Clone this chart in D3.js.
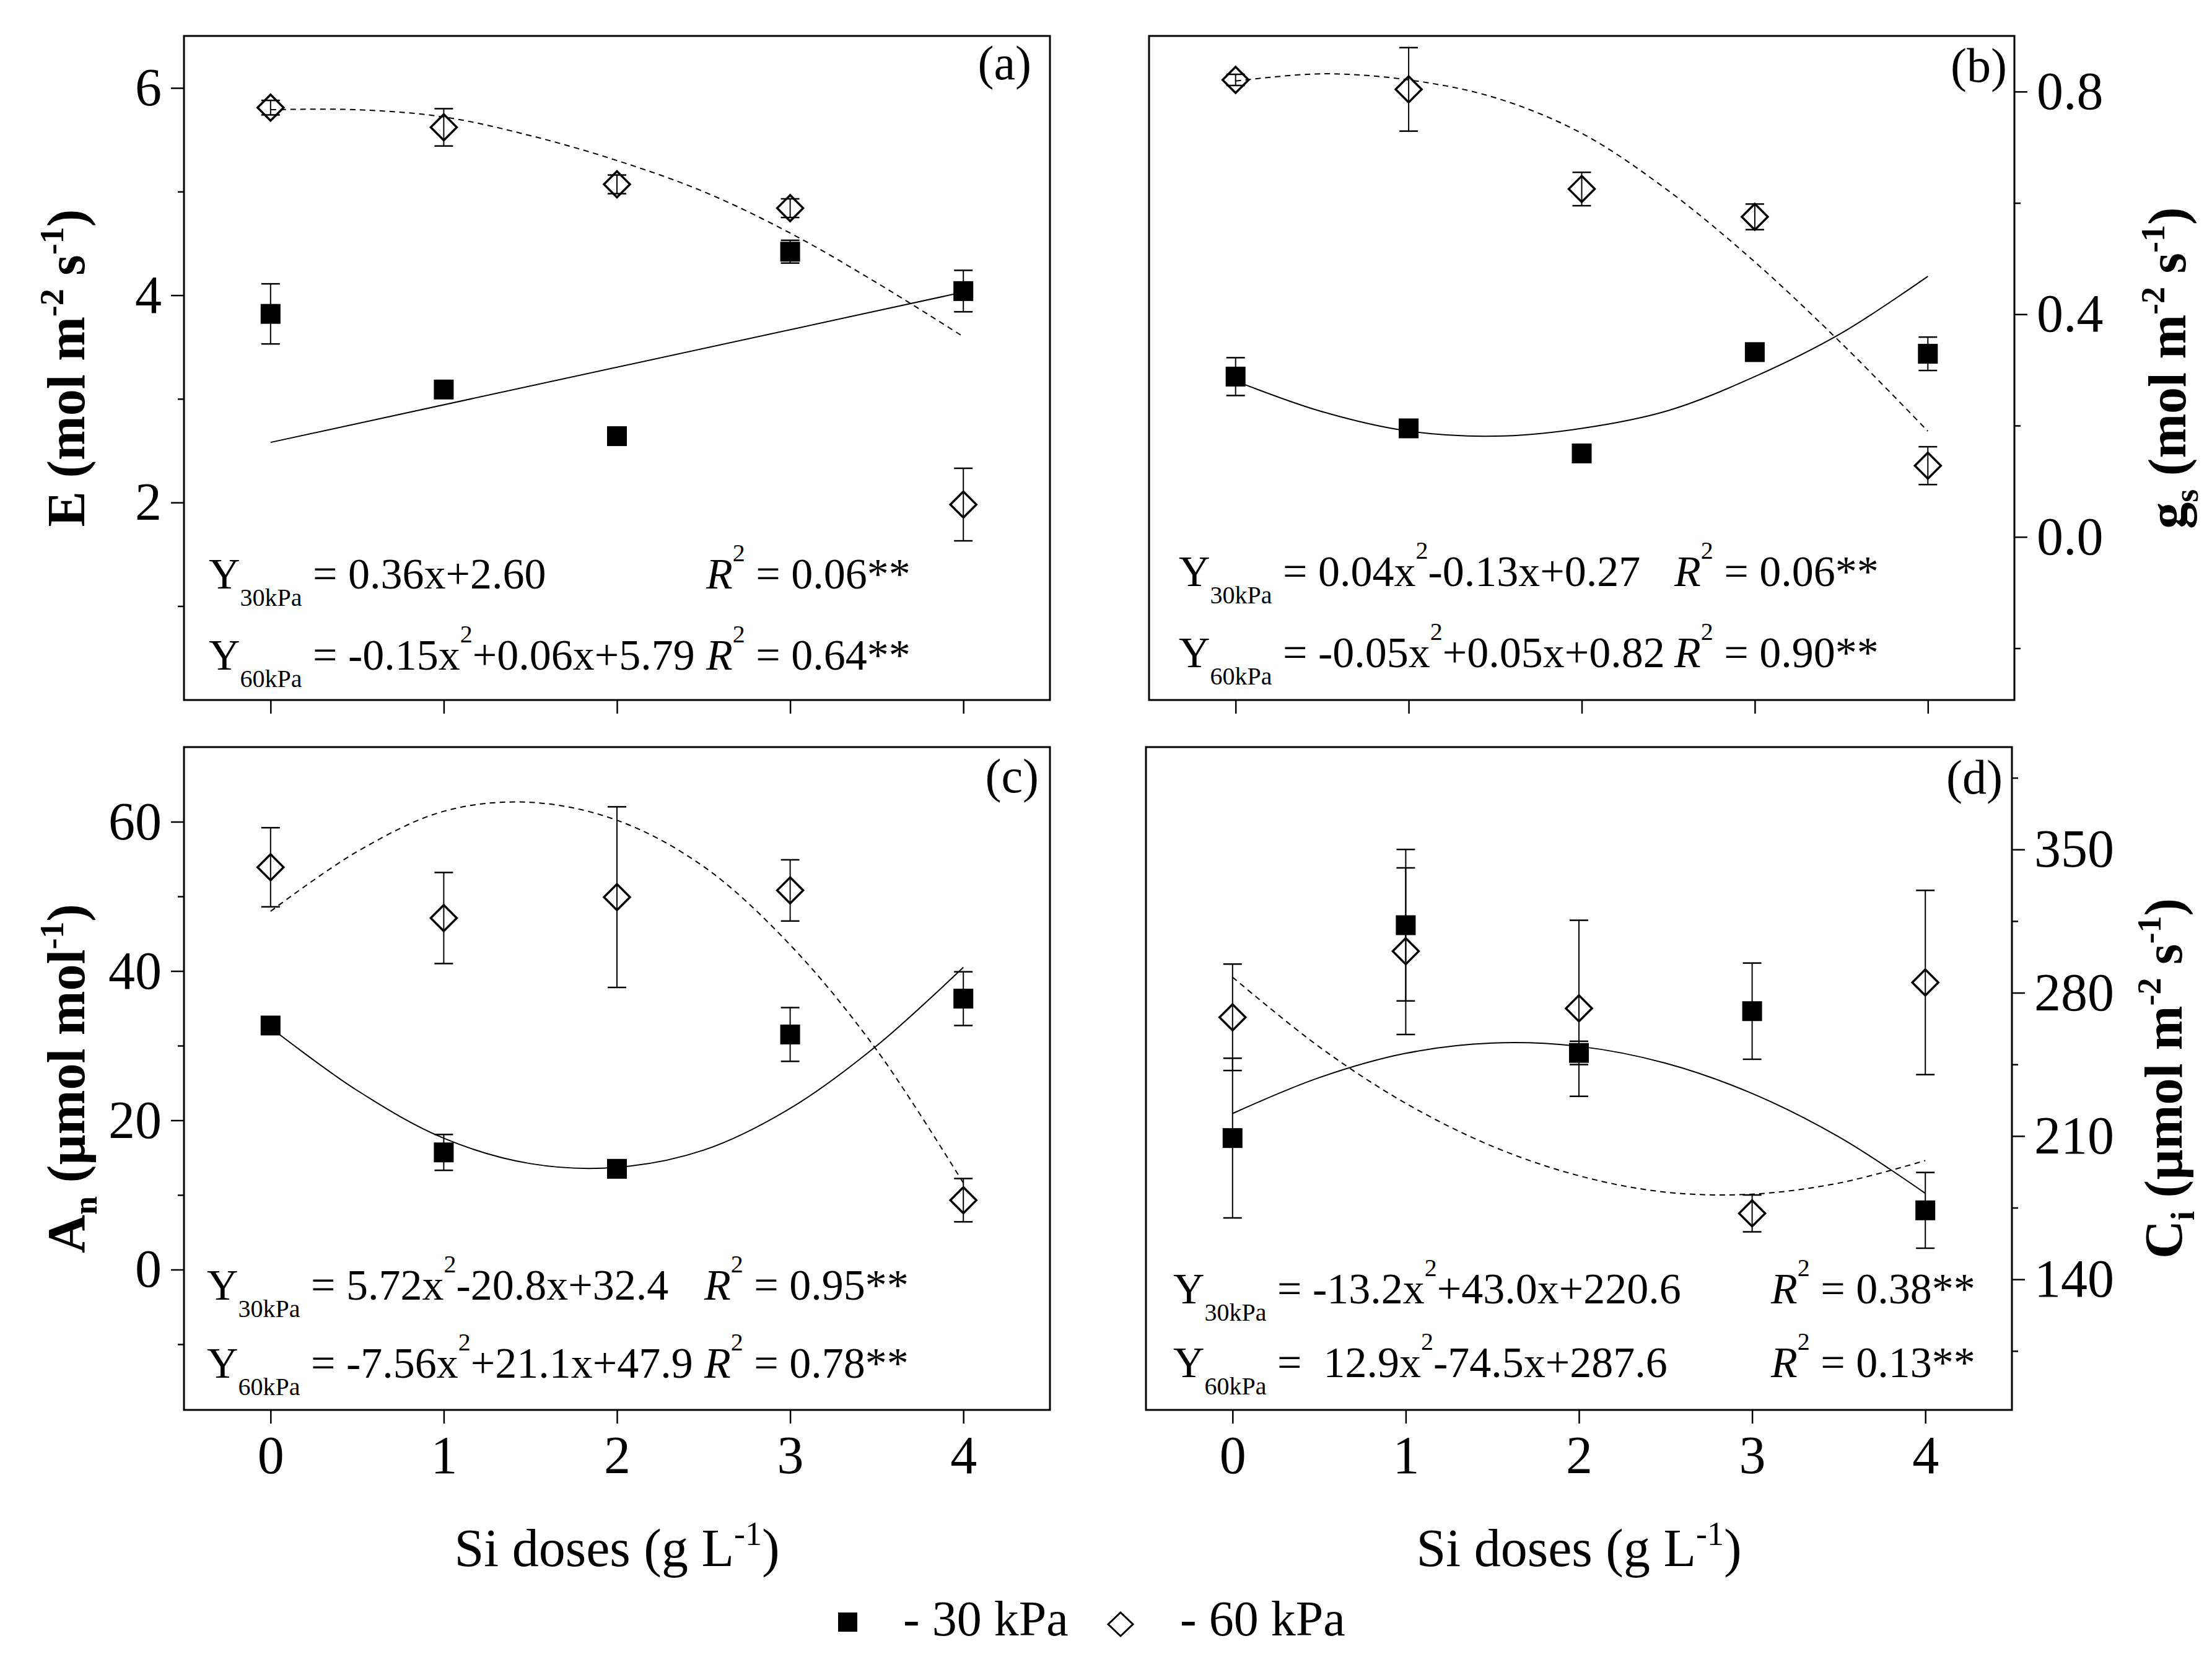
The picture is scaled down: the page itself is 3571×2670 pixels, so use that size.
<!DOCTYPE html>
<html>
<head>
<meta charset="utf-8">
<script src="https://cdn.jsdelivr.net/npm/d3@7"></script>
<style>
  body { margin: 0; background: #fff; }
  text { font-family: "Liberation Serif", "Times New Roman", serif; fill: #000; white-space: pre; }
</style>
</head>
<body>
<div id="chart"></div>
<script>
const width = 3571,
    height = 2670;

// Si doses (x) and x positions where the fitted curves were read
const doses = [0, 1, 2, 3, 4];
const fitX = [0, 0.5, 1, 1.5, 2, 2.5, 3, 3.5, 4];
const lineX = [0, 4];

// (a) E
const E30 = [3.82, 3.09, 2.64, 4.42, 4.04];
const E30err = [0.29, 0.05, 0.03, 0.11, 0.2];
const E60 = [5.81, 5.62, 5.07, 4.84, 1.98];
const E60err = [0.07, 0.18, 0.09, 0.09, 0.35];
const E30fit = [2.58, 4.03];
const E60fit = [5.79, 5.79, 5.72, 5.54, 5.3, 5.0, 4.6, 4.12, 3.6];
const Eticks = [2, 4, 6];
const Eminor = [1, 3, 5];

// (b) gs
const gs30 = [0.288, 0.195, 0.15, 0.332, 0.329];
const gs30err = [0.034, 0.01, 0.008, 0.012, 0.03];
const gs60 = [0.821, 0.804, 0.625, 0.575, 0.128];
const gs60err = [0.01, 0.075, 0.03, 0.023, 0.034];
const gs30fit = [0.28, 0.225, 0.19, 0.181, 0.195, 0.227, 0.288, 0.366, 0.468];
const gs60fit = [0.819, 0.832, 0.821, 0.789, 0.725, 0.622, 0.494, 0.348, 0.19];
const gsTicks = [0, 0.4, 0.8];
const gsMinor = [-0.2, 0.2, 0.6];

// (c) An
const An30 = [32.7, 15.7, 13.5, 31.5, 36.3];
const An30err = [0.8, 2.4, 0.6, 3.6, 3.6];
const An60 = [53.9, 47.1, 49.9, 50.8, 9.3];
const An60err = [5.3, 6.1, 12.1, 4.1, 2.9];
const An30fit = [32.4, 24.0, 17.6, 14.2, 13.7, 16.0, 21.6, 30.0, 40.5];
const An60fit = [48.0, 56.0, 61.4, 62.6, 60.2, 54.0, 43.5, 29.4, 11.6];
const AnTicks = [0, 20, 40, 60];
const AnMinor = [-10, 10, 30, 50];

// (d) Ci
const Ci30 = [209, 313, 250.6, 271, 173.7];
const Ci30err = [39, 37, 5.7, 23.5, 18.5];
const Ci60 = [268, 300.3, 272.4, 172.2, 285];
const Ci60err = [26, 40.7, 43, 9, 45];
const Ci30fit = [221, 238.5, 250.4, 255.4, 253.8, 245.6, 230.8, 209.6, 182];
const Ci60fit = [287.6, 253.6, 226, 205, 190.6, 182.6, 181.6, 187, 198];
const CiTicks = [140, 210, 280, 350];
const CiMinor = [105, 175, 245, 315, 385];

// equation texts: [Y subscript, right-hand side, R² value]
const eqA = [["30kPa", " = 0.36x+2.60", "0.06**"], ["60kPa", " = -0.15x²+0.06x+5.79", "0.64**"]];
const eqB = [["30kPa", " = 0.04x²-0.13x+0.27", "0.06**"], ["60kPa", " = -0.05x²+0.05x+0.82", "0.90**"]];
const eqC = [["30kPa", " = 5.72x²-20.8x+32.4", "0.95**"], ["60kPa", " = -7.56x²+21.1x+47.9", "0.78**"]];
const eqD = [["30kPa", " = -13.2x²+43.0x+220.6", "0.38**"], ["60kPa", " =  12.9x²-74.5x+287.6", "0.13**"]];

const svg = d3
    .select("#chart")
    .append("svg")
    .attr("width", width)
    .attr("height", height)
    .style("background", "#fff");

const panels = [
    {
        tag: "(a)", left: 297, right: 1695, top: 58, bottom: 1130, yDomain: [0.094, 6.502],
        major: Eticks, minor: Eminor, fmt: d3.format("d"), side: "left", xLabels: false,
        s30: E30, e30: E30err, s60: E60, e60: E60err, f30x: lineX, f30: E30fit, f60x: fitX, f60: E60fit,
        eq: eqA, eqX: 337, rX: 1140, eqY: [950, 1081], tagDx: 30, tagY: 128,
        title: [["E (mol m", ""], ["-2", "sup"], [" s", ""], ["-1", "sup"], [")", ""]], titleX: 136
    },
    {
        tag: "(b)", left: 1855, right: 3252, top: 58, bottom: 1130, yDomain: [-0.293, 0.9],
        major: gsTicks, minor: gsMinor, fmt: d3.format(".1f"), side: "right", xLabels: false,
        s30: gs30, e30: gs30err, s60: gs60, e60: gs60err, f30x: fitX, f30: gs30fit, f60x: fitX, f60: gs60fit,
        eq: eqB, eqX: 1903, rX: 2703, eqY: [946, 1077], tagDx: 12, tagY: 132,
        title: [["g", ""], ["s", "sub"], [" (mol m", ""], ["-2", "sup"], [" s", ""], ["-1", "sup"], [")", ""]], titleX: 3528
    },
    {
        tag: "(c)", left: 297, right: 1695, top: 1206, bottom: 2276, yDomain: [-18.8, 70],
        major: AnTicks, minor: AnMinor, fmt: d3.format("d"), side: "left", xLabels: true,
        s30: An30, e30: An30err, s60: An60, e60: An60err, f30x: fitX, f30: An30fit, f60x: fitX, f60: An60fit,
        eq: eqC, eqX: 334, rX: 1137, eqY: [2098, 2224], tagDx: 18, tagY: 1279,
        title: [["A", ""], ["n", "sub"], [" (µmol mol", ""], ["-1", "sup"], [")", ""]], titleX: 136
    },
    {
        tag: "(d)", left: 1850, right: 3248, top: 1206, bottom: 2276, yDomain: [76.2, 400],
        major: CiTicks, minor: CiMinor, fmt: d3.format("d"), side: "right", xLabels: true,
        s30: Ci30, e30: Ci30err, s60: Ci60, e60: Ci60err, f30x: fitX, f30: Ci30fit, f60x: fitX, f60: Ci60fit,
        eq: eqD, eqX: 1894, rX: 2859, eqY: [2104, 2223], tagDx: 15, tagY: 1281,
        title: [["C", ""], ["i", "sub"], [" (µmol m", ""], ["-2", "sup"], [" s", ""], ["-1", "sup"], [")", ""]], titleX: 3522
    }
];

// text with sub/superscripts built from [string, kind] pieces
function richText(sel, pieces, size, small, supUp, subDown) {
    let shift = 0;
    pieces.forEach(([t, kind]) => {
        const target = kind === "sup" ? -supUp : kind === "sub" ? subDown : 0;
        sel.append("tspan")
            .attr("dy", target - shift)
            .style("font-size", (kind ? small : size) + "px")
            .text(t);
        shift = target;
    });
}

panels.forEach((p) => {
    const x = d3.scaleLinear().domain([-0.5, 4.5]).range([p.left, p.right]);
    const y = d3.scaleLinear().domain(p.yDomain).range([p.bottom, p.top]);
    const g = svg.append("g");

    // x axis
    const xAxis = d3.axisBottom(x).tickValues(doses).tickSize(22).tickSizeOuter(0).tickPadding(19)
        .tickFormat(p.xLabels ? d3.format("d") : "");
    const gx = g.append("g").attr("transform", "translate(0," + p.bottom + ")").call(xAxis);

    // y axis, major and minor
    const axisFn = p.side === "left" ? d3.axisLeft : d3.axisRight;
    const yPos = p.side === "left" ? p.left : p.right;
    const gy = g.append("g").attr("transform", "translate(" + yPos + ",0)")
        .call(axisFn(y).tickValues(p.major).tickSize(21).tickSizeOuter(0).tickPadding(15).tickFormat(p.fmt));
    const gm = g.append("g").attr("transform", "translate(" + yPos + ",0)")
        .call(axisFn(y).tickValues(p.minor).tickSize(10).tickSizeOuter(0).tickFormat(""));

    [gx, gy, gm].forEach((a) => {
        a.select(".domain").remove();
        a.selectAll("line").attr("stroke", "#000").attr("stroke-width", 2.5);
        a.selectAll("text").style("font-size", "86px").attr("fill", "#000");
    });

    // frame
    g.append("rect")
        .attr("x", p.left).attr("y", p.top)
        .attr("width", p.right - p.left).attr("height", p.bottom - p.top)
        .attr("fill", "none").attr("stroke", "#000").attr("stroke-width", 3);

    // fitted curves
    const line = d3.line().x((d) => x(d[0])).y((d) => y(d[1])).curve(d3.curveCatmullRom);
    g.append("path")
        .attr("d", line(d3.zip(p.f30x, p.f30)))
        .attr("fill", "none").attr("stroke", "#000").attr("stroke-width", 2);
    g.append("path")
        .attr("d", line(d3.zip(p.f60x, p.f60)))
        .attr("fill", "none").attr("stroke", "#000").attr("stroke-width", 2)
        .attr("stroke-dasharray", "9,7");

    // error bars
    [[p.s30, p.e30], [p.s60, p.e60]].forEach(([vals, errs]) => {
        const eb = g.append("g").attr("stroke", "#000");
        eb.selectAll("line.v").data(doses).enter().append("line")
            .attr("x1", (d) => x(d)).attr("x2", (d) => x(d))
            .attr("y1", (d, i) => y(vals[i] - errs[i])).attr("y2", (d, i) => y(vals[i] + errs[i]))
            .attr("stroke-width", 2);
        [-1, 1].forEach((sgn) => {
            eb.selectAll("line.c" + sgn).data(doses).enter().append("line")
                .attr("x1", (d) => x(d) - 15).attr("x2", (d) => x(d) + 15)
                .attr("y1", (d, i) => y(vals[i] + sgn * errs[i])).attr("y2", (d, i) => y(vals[i] + sgn * errs[i]))
                .attr("stroke-width", 2.5);
        });
    });

    // markers
    g.selectAll("rect.sq").data(doses).enter().append("rect")
        .attr("x", (d) => x(d) - 16).attr("y", (d, i) => y(p.s30[i]) - 16)
        .attr("width", 32).attr("height", 32).attr("fill", "#000");
    g.selectAll("path.dm").data(doses).enter().append("path")
        .attr("d", (d, i) => {
            const cx = x(d), cy = y(p.s60[i]);
            return "M" + cx + "," + (cy - 21) + "L" + (cx + 21) + "," + cy + "L" + cx + "," + (cy + 21) + "L" + (cx - 21) + "," + cy + "Z";
        })
        .attr("fill", "none").attr("stroke", "#000").attr("stroke-width", 3.5);

    // panel tag
    g.append("text").attr("x", p.right - p.tagDx).attr("y", p.tagY)
        .attr("text-anchor", "end").style("font-size", "78px").text(p.tag);

    // equations
    p.eq.forEach((e, i) => {
        const t = g.append("text").attr("x", p.eqX).attr("y", p.eqY[i]).style("font-size", "70px");
        const rhs = e[1].split("²");
        const pieces = [["Y", ""], [e[0], "sub"]];
        rhs.forEach((part, k) => {
            pieces.push([part, ""]);
            if (k < rhs.length - 1) pieces.push(["2", "sup"]);
        });
        richText(t, pieces, 70, 40, 44, 28);
        const r = g.append("text").attr("x", p.rX).attr("y", p.eqY[i]).style("font-size", "70px");
        r.append("tspan").style("font-style", "italic").text("R");
        r.append("tspan").attr("dy", -44).style("font-size", "40px").text("2");
        r.append("tspan").attr("dy", 44).text(" = " + e[2]);
    });

    // y title
    const ty = (p.top + p.bottom) / 2;
    const tt = g.append("text")
        .attr("transform", "translate(" + p.titleX + "," + ty + ") rotate(-90)")
        .attr("text-anchor", "middle").style("font-weight", "bold").style("font-size", "86px");
    richText(tt, p.title, 86, 54, 34, 20);

    // x title
    if (p.xLabels) {
        const xt = g.append("text")
            .attr("x", (p.left + p.right) / 2).attr("y", 2528)
            .attr("text-anchor", "middle").style("font-size", "86px");
        richText(xt, [["Si doses (g L", ""], ["-1", "sup"], [")", ""]], 86, 54, 34, 0);
    }
});

// legend
const legend = svg.append("g");
legend.append("rect").attr("x", 1353).attr("y", 2603).attr("width", 31).attr("height", 31).attr("fill", "#000");
legend.append("text").attr("x", 1458).attr("y", 2640).style("font-size", "80px").text("- 30 kPa");
legend.append("path").attr("d", "M1809,2603L1829,2622L1809,2641L1789,2622Z")
    .attr("fill", "none").attr("stroke", "#000").attr("stroke-width", 3);
legend.append("text").attr("x", 1905).attr("y", 2640).style("font-size", "80px").text("- 60 kPa");
</script>
</body>
</html>
